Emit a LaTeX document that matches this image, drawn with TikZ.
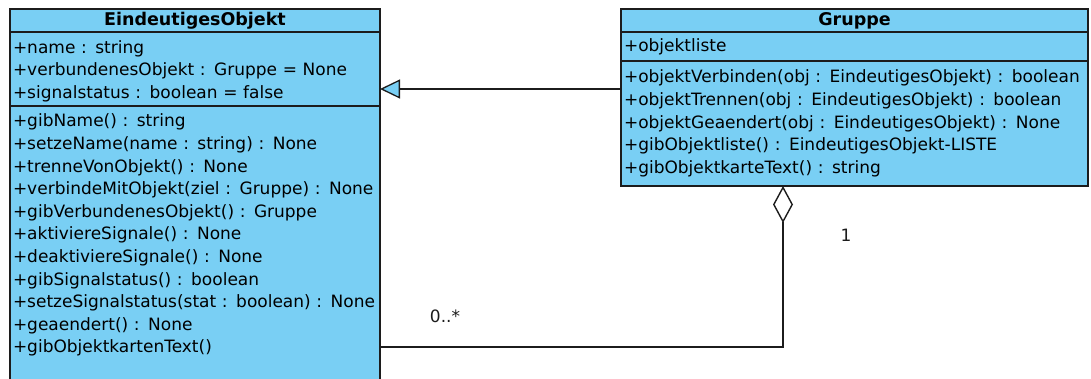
\documentclass[tikz,border=0pt]{standalone}
\usepackage{fontspec}
\setmainfont{DejaVu Sans}
\usepackage{xcolor}
\usepackage{tikz}
\usetikzlibrary{arrows.meta,positioning,calc}
\definecolor{klassenblau}{HTML}{79CFF4}
\definecolor{linie}{HTML}{1C1C1C}
\tikzset{
	umlschrift/.style={font=\fontsize{17}{22.6}\selectfont},
	kopf/.style={draw=linie, fill=klassenblau, line width=1.3pt, inner sep=0pt,
		outer sep=0pt, align=center, font=\fontsize{17.5}{22.6}\selectfont\bfseries},
	fach/.style={draw=linie, fill=klassenblau, line width=1.3pt, inner xsep=3pt,
		inner ysep=0pt, outer sep=0pt, align=left, umlschrift},
	beschriftung/.style={inner sep=1pt, umlschrift, text=linie},
	erbpfeil/.style={-{Triangle[length=20pt, width=19pt, fill=klassenblau]},
		draw=linie, line width=1.3pt},
	aggregation/.style={{Diamond[open, length=37pt, width=20pt]}-,
		draw=linie, line width=1.4pt}
}

\begin{document}
\begin{tikzpicture}[
	links/.style={minimum width=370pt, text width=364pt},
	rechts/.style={minimum width=467pt, text width=461pt},
	]
	\useasboundingbox (0,0) rectangle (1091pt,-379pt);
	
	%% -- Klasse EindeutigesObjekt
	\node[kopf, minimum width=370pt, minimum height=23pt, anchor=north west]
	(eoTitel) at (10pt,-9pt) {EindeutigesObjekt};
	
	\node[fach, links, minimum height=74pt, below=0pt of eoTitel] (eoAttr)
	{\rule{0pt}{17pt}+name : string\\
		+verbundenesObjekt : Gruppe = None\\
		+signalstatus : boolean = false};
	
	%% Methodenfach laeuft unten aus dem Bild heraus
	\node[fach, links, inner ysep=8pt, below=0pt of eoAttr] (eoMeth)
	{+gibName() : string\\
		+setzeName(name : string) : None\\
		+trenneVonObjekt() : None\\
		+verbindeMitObjekt(ziel : Gruppe) : None\\
		+gibVerbundenesObjekt() : Gruppe\\
		+aktiviereSignale() : None\\
		+deaktiviereSignale() : None\\
		+gibSignalstatus() : boolean\\
		+setzeSignalstatus(stat : boolean) : None\\
		+geaendert() : None\\
		+gibObjektkartenText()\\
		\mbox{}\\
		\mbox{}};
	
	%% -- Klasse Gruppe
	\node[kopf, minimum width=467pt, minimum height=23pt, anchor=north west]
	(grTitel) at (621pt,-9pt) {Gruppe};
	
	\node[fach, rechts, minimum height=29pt, below=0pt of grTitel] (grAttr)
	{+objektliste};
	
	\node[fach, rechts, minimum height=125pt, below=0pt of grAttr] (grMeth)
	{+objektVerbinden(obj : EindeutigesObjekt) : boolean\\
		+objektTrennen(obj : EindeutigesObjekt) : boolean\\
		+objektGeaendert(obj : EindeutigesObjekt) : None\\
		+gibObjektliste() : EindeutigesObjekt-LISTE\\
		+gibObjektkarteText() : string};
	
	%% -- Vererbung Gruppe -> EindeutigesObjekt
	\coordinate (erbHoehe) at (0,-89pt);
	\draw[erbpfeil] (grMeth.west |- erbHoehe) -- (eoAttr.east |- erbHoehe);
	
	%% -- Aggregation mit Multiplizitaeten
	\coordinate (knick) at (783pt,-347pt);
	\draw[aggregation] (grMeth.south -| knick) -- (knick) -- (eoMeth.east |- knick);
	
	\node[beschriftung] (multEins) at (846pt,-235pt) {1};
	\node[beschriftung] (multViele) at (445pt,-316pt) {0..*};
	
\end{tikzpicture}
\end{document}
